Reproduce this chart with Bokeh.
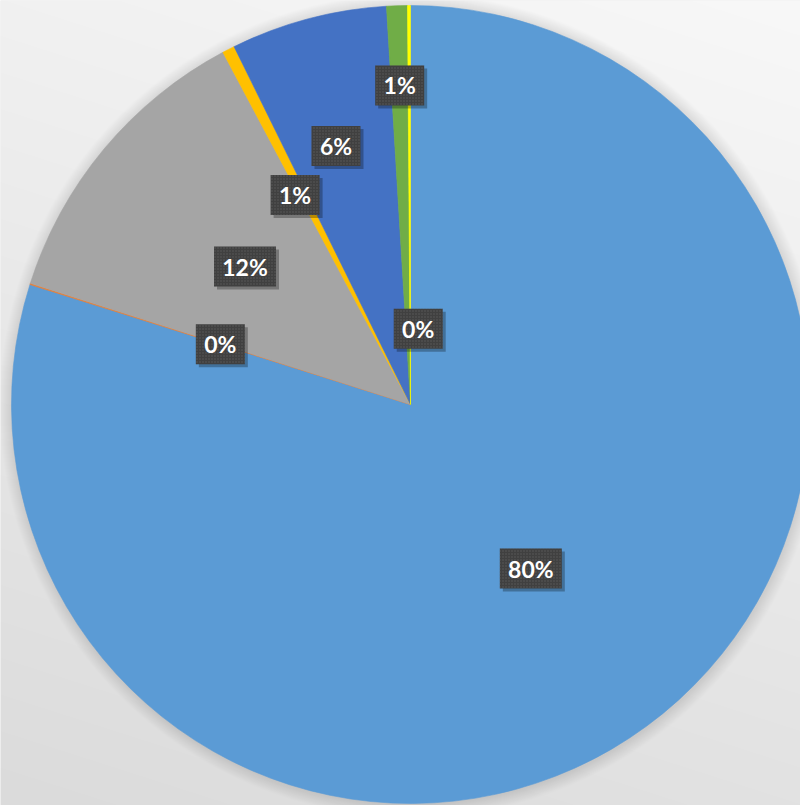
import numpy as np
from bokeh.plotting import figure
from bokeh.models import Range1d, ColumnDataSource
from bokeh.embed import file_html
from bokeh.resources import INLINE
from bokeh.core.properties import value

# ---- data (percent shares, clockwise from 12 o'clock) ----
categories = ["Series 1", "Series 2", "Series 3", "Series 4", "Series 5", "Series 6", "Series 7"]
shares = [79.86, 0.05, 12.30, 0.50, 6.33, 0.84, 0.12]
colors = ["#5B9BD5", "#ED7D31", "#A5A5A5", "#FFC000", "#4472C4", "#70AD47", "#FFFF00"]

# ---- layout ----
W, H = 800, 805
CX, CY, R = 410, 401, 399
label_r = [0.51, 0.50, 0.54, 0.59, 0.67, 0.80, 0.19]
label_dx = [0, 0, 0, -8, -6, 0, 8]

total = float(sum(shares))
frac = np.array(shares) / total
cum = np.concatenate([[0.0], np.cumsum(frac)])
start = np.pi / 2 - cum[1:] * 2 * np.pi
end = np.pi / 2 - cum[:-1] * 2 * np.pi
mid = (start + end) / 2
lr = np.array(label_r) * R
lx = CX + lr * np.cos(mid) + np.array(label_dx)
ly = CY + lr * np.sin(mid)
texts = [f"{int(np.floor(f * 100 + 0.5))}%" for f in frac]
bw = [23 + 13 * len(t) for t in texts]

pie_src = ColumnDataSource(dict(cat=categories, start=start, end=end, color=colors))
lab_src = ColumnDataSource(dict(x=lx, y=ly, sx=lx + 3, sy=ly - 3, text=texts, bw=bw))

p = figure(width=W, height=H, x_range=Range1d(0, W), y_range=Range1d(0, H),
           output_backend="svg", toolbar_location=None, min_border=0)
p.axis.visible = False
p.grid.visible = False
p.outline_line_color = None
p.background_fill_color = "#e8e8e8"
p.border_fill_color = "#e8e8e8"

# background gradient
yy, xx = np.mgrid[0:H, 0:W]
pix_y = H - yy
c = np.clip(241 - 22 * pix_y / H + 7 * xx / W, 0, 255).astype(np.uint8)
img = np.empty((H, W), dtype=np.uint32)
view = img.view(dtype=np.uint8).reshape((H, W, 4))
view[..., 0] = c
view[..., 1] = c
view[..., 2] = c
view[..., 3] = 255
p.image_rgba(image=[img], x=0, y=0, dw=W, dh=H)

# soft pie shadow
for k in range(1, 14):
    p.circle(x=CX + 1, y=CY - 1, radius=R + k, fill_color="#3a3026", fill_alpha=0.009,
             line_color=None)

# pie
p.wedge(x=CX, y=CY, radius=R, start_angle="start", end_angle="end", direction="anticlock",
        fill_color="color", line_color="color", line_width=0.6, source=pie_src)

# label boxes
p.rect(x="sx", y="sy", width="bw", height=40, width_units="screen", height_units="screen",
       fill_color="#000000", fill_alpha=0.28, line_color=None, source=lab_src)
p.rect(x="x", y="y", width="bw", height=40, width_units="screen", height_units="screen",
       fill_color="#404040", line_color=None, hatch_pattern="dot", hatch_color="#5c5c5c",
       hatch_scale=3, hatch_alpha=0.9, source=lab_src)
p.text(x="x", y="y", text="text", text_color="white", text_font=value("Lato"),
       text_font_style="bold", text_font_size="23px", text_align="center",
       text_baseline="middle", source=lab_src)

open("out.html", "w").write(file_html(p, INLINE))
